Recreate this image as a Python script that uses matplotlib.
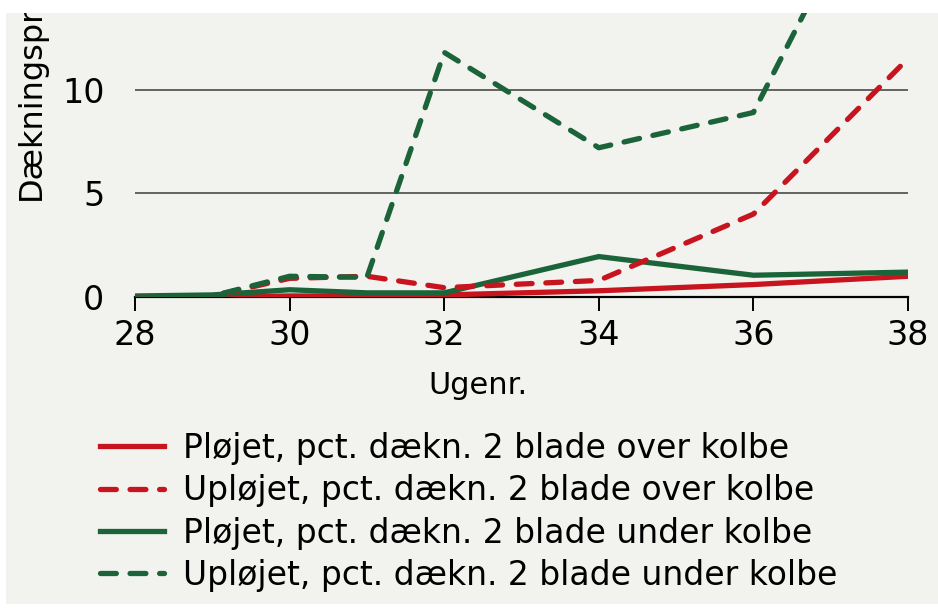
import matplotlib
matplotlib.use('Agg')
import matplotlib.pyplot as plt
from matplotlib.patches import Rectangle

plt.rcParams['font.family'] = ['DejaVu Sans']

# Data
weeks = [28, 29, 30, 31, 32, 34, 36, 38]
ploejet_over = [0.0, 0.0, 0.05, 0.05, 0.1, 0.3, 0.6, 1.0]
uploejet_over = [0.0, 0.05, 0.9, 1.0, 0.45, 0.8, 4.0, 11.5]
ploejet_under = [0.05, 0.1, 0.35, 0.2, 0.2, 1.95, 1.05, 1.2]
uploejet_under = [0.0, 0.05, 1.0, 0.95, 11.8, 7.2, 8.9, 23.5]

labels = ['Pløjet, pct. dækn. 2 blade over kolbe',
          'Upløjet, pct. dækn. 2 blade over kolbe',
          'Pløjet, pct. dækn. 2 blade under kolbe',
          'Upløjet, pct. dækn. 2 blade under kolbe']
xticks = [28, 30, 32, 34, 36, 38]
yticks = [0, 5, 10]

RED = '#c8141e'
GREEN = '#1b6439'
BG = '#f2f2ee'

W, H = 938, 613
fig = plt.figure(figsize=(W / 100, H / 100), dpi=100, facecolor='white')
# grey panel behind everything
fig.patches.append(Rectangle((6 / W, 1 - 604 / H), 1 - 6 / W, (604 - 13) / H,
                             transform=fig.transFigure, facecolor=BG,
                             edgecolor='none', zorder=-10))

ax = fig.add_axes([135 / W, 1 - 297 / H, (908 - 135) / W, (297 - 13) / H])
ax.set_facecolor('none')
ax.set_xlim(28, 38)
ax.set_ylim(0, 13.7)

dash = dict(dashes=(3.0, 2.6), dash_capstyle='round')
lw = 3.8
ax.plot(weeks, ploejet_over, color=RED, lw=lw, label=labels[0], zorder=3)
ax.plot(weeks, ploejet_under, color=GREEN, lw=lw, label=labels[2], zorder=4)
ax.plot(weeks, uploejet_over, color=RED, lw=lw, label=labels[1], zorder=5, **dash)
ax.plot(weeks, uploejet_under, color=GREEN, lw=lw, label=labels[3], zorder=6, **dash)

for s in ['top', 'right', 'left']:
    ax.spines[s].set_visible(False)
ax.spines['bottom'].set_linewidth(1.6)
ax.spines['bottom'].set_color('black')

ax.set_yticks(yticks)
ax.set_xticks(xticks)
ax.tick_params(axis='y', length=0, pad=22, labelsize=24)
ax.tick_params(axis='x', length=10, width=1.4, pad=6, labelsize=24)
ax.yaxis.grid(True, color='#4a4a4a', lw=1.2)
ax.set_axisbelow(True)

ax.set_xlabel('Ugenr.', fontsize=22)
ax.xaxis.set_label_coords((478 - 135) / (908 - 135), -0.26)

fig.text(31 / W, 1 - 200 / H, 'Dækningsprocent', rotation=90,
         ha='center', va='bottom', fontsize=23)

handles, labs = ax.get_legend_handles_labels()
order = [0, 2, 1, 3]
leg = fig.legend([handles[i] for i in order], [labs[i] for i in order],
                 loc='upper left', bbox_to_anchor=(100 / W, 1 - 432 / H),
                 frameon=False, fontsize=23.8, handlelength=1.95,
                 handletextpad=0.55, labelspacing=0.28, borderaxespad=0,
                 borderpad=0)

# white strip over the cut-off top of the label
fig.patches.append(Rectangle((0, 1 - 13 / H), 1, 13 / H, transform=fig.transFigure,
                             facecolor='white', edgecolor='none', zorder=20))

fig.savefig('out.png', dpi=100, facecolor='white')
